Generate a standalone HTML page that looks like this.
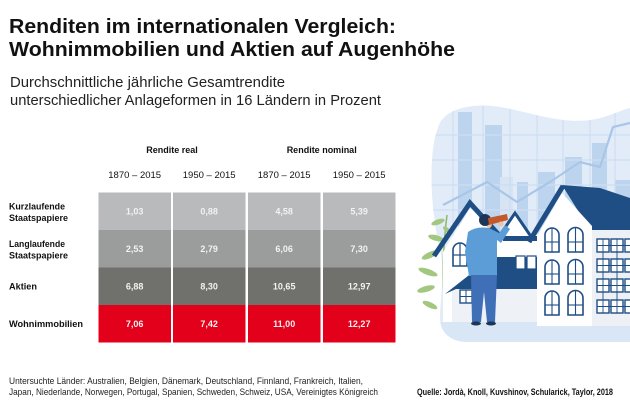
<!DOCTYPE html>
<html><head><meta charset="utf-8"><style>
html,body{margin:0;padding:0;background:#fff;}
svg{display:block;}
</style></head><body>
<svg width="630" height="412" viewBox="0 0 630 412" xmlns="http://www.w3.org/2000/svg" font-family="'Liberation Sans', sans-serif">
<rect width="630" height="412" fill="#fff"/>

<!-- Title -->
<text x="9" y="33" font-size="20.5" font-weight="bold" fill="#111" textLength="387" lengthAdjust="spacingAndGlyphs">Renditen im internationalen Vergleich:</text>
<text x="9" y="56" font-size="20.5" font-weight="bold" fill="#111" textLength="446" lengthAdjust="spacingAndGlyphs">Wohnimmobilien und Aktien auf Augenhöhe</text>
<text x="10" y="87" font-size="15" fill="#222" textLength="275" lengthAdjust="spacingAndGlyphs">Durchschnittliche jährliche Gesamtrendite</text>
<text x="10" y="105" font-size="15" fill="#222" textLength="371" lengthAdjust="spacingAndGlyphs">unterschiedlicher Anlageformen in 16 Ländern in Prozent</text>

<!-- Header -->
<g font-size="9" font-weight="bold" fill="#111" text-anchor="middle">
<text x="172" y="153">Rendite real</text>
<text x="321.7" y="153">Rendite nominal</text>
</g>
<g font-size="9.5" fill="#111" text-anchor="middle">
<text x="134.7" y="178">1870 – 2015</text>
<text x="209.2" y="178">1950 – 2015</text>
<text x="284.2" y="178">1870 – 2015</text>
<text x="359.2" y="178">1950 – 2015</text>
</g>

<!-- Cells -->
<g>
<rect x="98.5" y="192.5" width="72.5" height="37.5" fill="#b8babb"/>
<rect x="173" y="192.5" width="72.5" height="37.5" fill="#b8babb"/>
<rect x="248" y="192.5" width="72.5" height="37.5" fill="#b8babb"/>
<rect x="323" y="192.5" width="72.5" height="37.5" fill="#b8babb"/>
<rect x="98.5" y="230" width="72.5" height="37.5" fill="#9b9d9c"/>
<rect x="173" y="230" width="72.5" height="37.5" fill="#9b9d9c"/>
<rect x="248" y="230" width="72.5" height="37.5" fill="#9b9d9c"/>
<rect x="323" y="230" width="72.5" height="37.5" fill="#9b9d9c"/>
<rect x="98.5" y="267.5" width="72.5" height="37.5" fill="#70706c"/>
<rect x="173" y="267.5" width="72.5" height="37.5" fill="#70706c"/>
<rect x="248" y="267.5" width="72.5" height="37.5" fill="#70706c"/>
<rect x="323" y="267.5" width="72.5" height="37.5" fill="#70706c"/>
<rect x="98.5" y="305" width="72.5" height="37.5" fill="#e2001a"/>
<rect x="173" y="305" width="72.5" height="37.5" fill="#e2001a"/>
<rect x="248" y="305" width="72.5" height="37.5" fill="#e2001a"/>
<rect x="323" y="305" width="72.5" height="37.5" fill="#e2001a"/>
</g>
<g font-size="9" font-weight="bold" fill="#f2f2f2" text-anchor="middle">
<text x="134.7" y="214.5">1,03</text><text x="209.2" y="214.5">0,88</text><text x="284.2" y="214.5">4,58</text><text x="359.2" y="214.5">5,39</text>
<text x="134.7" y="252">2,53</text><text x="209.2" y="252">2,79</text><text x="284.2" y="252">6,06</text><text x="359.2" y="252">7,30</text>
<text x="134.7" y="289.5">6,88</text><text x="209.2" y="289.5">8,30</text><text x="284.2" y="289.5">10,65</text><text x="359.2" y="289.5">12,97</text>
<text x="134.7" y="327">7,06</text><text x="209.2" y="327">7,42</text><text x="284.2" y="327">11,00</text><text x="359.2" y="327">12,27</text>
</g>

<!-- Row labels -->
<g font-size="9" font-weight="bold" fill="#111">
<text x="9" y="209.5" textLength="56" lengthAdjust="spacingAndGlyphs">Kurzlaufende</text>
<text x="9" y="221" textLength="59" lengthAdjust="spacingAndGlyphs">Staatspapiere</text>
<text x="9" y="247" textLength="56" lengthAdjust="spacingAndGlyphs">Langlaufende</text>
<text x="9" y="258.5" textLength="59" lengthAdjust="spacingAndGlyphs">Staatspapiere</text>
<text x="9" y="289.5" textLength="28" lengthAdjust="spacingAndGlyphs">Aktien</text>
<text x="9" y="327" textLength="74" lengthAdjust="spacingAndGlyphs">Wohnimmobilien</text>
</g>

<!-- Footer -->
<g font-size="9" fill="#222">
<text x="9" y="384" textLength="354" lengthAdjust="spacingAndGlyphs">Untersuchte Länder: Australien, Belgien, Dänemark, Deutschland, Finnland, Frankreich, Italien,</text>
<text x="9" y="395" textLength="369" lengthAdjust="spacingAndGlyphs">Japan, Niederlande, Norwegen, Portugal, Spanien, Schweden, Schweiz, USA, Vereinigtes Königreich</text>
<text x="417" y="395" font-weight="bold" fill="#111" textLength="196" lengthAdjust="spacingAndGlyphs">Quelle: Jordà, Knoll, Kuvshinov, Schularick, Taylor, 2018</text>
</g>

<!-- Illustration -->
<defs>
<clipPath id="blob">
<path d="M438,128 C442,110 470,102 500,107 C530,112 560,124 590,120 C610,117 620,110 630,108 L630,342 L468,342 C450,342 440,332 440,318 C440,295 446,275 440,250 C434,225 430,190 432,160 C433,145 435,135 438,128 Z"/>
</clipPath>
</defs>
<path d="M438,128 C442,110 470,102 500,107 C530,112 560,124 590,120 C610,117 620,110 630,108 L630,342 L468,342 C450,342 440,332 440,318 C440,295 446,275 440,250 C434,225 430,190 432,160 C433,145 435,135 438,128 Z" fill="#e2ecf8"/>
<g clip-path="url(#blob)">
<g fill="#bcd4ee">
<rect x="458" y="112" width="14" height="200"/>
<rect x="485" y="125" width="17" height="190"/>
<rect x="517" y="182" width="11" height="130"/>
<rect x="538" y="172" width="17" height="140"/>
<rect x="565" y="157" width="17" height="150"/>
<rect x="592" y="143" width="15" height="160"/>
<rect x="615" y="180" width="15" height="130"/>
</g>
<rect x="500" y="177" width="13" height="130" fill="#d6e4f4"/>
<g stroke="#cddef1" stroke-width="1.2">
<line x1="453" y1="100" x2="453" y2="342"/><line x1="483" y1="100" x2="483" y2="342"/>
<line x1="510" y1="100" x2="510" y2="342"/><line x1="537" y1="100" x2="537" y2="342"/>
<line x1="563" y1="100" x2="563" y2="342"/><line x1="590" y1="100" x2="590" y2="342"/>
<line x1="615" y1="100" x2="615" y2="342"/>
<line x1="430" y1="135" x2="630" y2="135"/><line x1="430" y1="160" x2="630" y2="160"/>
<line x1="430" y1="185" x2="630" y2="185"/><line x1="430" y1="210" x2="630" y2="210"/>
</g>
<polyline points="443,205 487,182 517,202 550,182 580,162 600,167 613,127 630,123" fill="none" stroke="#a8c6e8" stroke-width="2.2"/>
<rect x="430" y="322" width="200" height="22" fill="#d9e6f5"/>
</g>

<!-- plant -->
<g fill="#a2c77f">
<path d="M446,318 Q440,270 447,215" stroke="#8db86a" stroke-width="1.5" fill="none"/>
<ellipse cx="438" cy="222" rx="7" ry="2.6" transform="rotate(-20 438 222)"/>
<ellipse cx="436" cy="238" rx="8" ry="2.8" transform="rotate(15 436 238)"/>
<ellipse cx="430" cy="255" rx="9" ry="3" transform="rotate(-25 430 255)"/>
<ellipse cx="428" cy="272" rx="10" ry="3" transform="rotate(20 428 272)"/>
<ellipse cx="426" cy="289" rx="9" ry="3" transform="rotate(-15 426 289)"/>
<ellipse cx="430" cy="305" rx="8" ry="2.8" transform="rotate(25 430 305)"/>
<ellipse cx="447" cy="230" rx="5" ry="2.2" transform="rotate(40 447 230)"/>
</g>

<!-- left house -->
<polygon points="443,252 470,208 503,240 503,322 443,322" fill="#fff"/>
<polyline points="434,256 470,203 508,245" stroke="#1f4e85" stroke-width="5" fill="none"/>
<path d="M453,266 L453,250 A7,7 0 0 1 467,250 L467,266 Z" fill="#fff" stroke="#1f4e85" stroke-width="1.6"/>
<line x1="460" y1="243" x2="460" y2="266" stroke="#1f4e85" stroke-width="1.2"/>
<line x1="453" y1="255" x2="467" y2="255" stroke="#1f4e85" stroke-width="1.2"/>

<!-- back middle house -->
<polygon points="500,235 515,214 530,235 537,235 537,260 500,260" fill="#fff"/>
<polyline points="498,238 515,213 532,238" stroke="#1f4e85" stroke-width="3" fill="none"/>
<rect x="503" y="236" width="34" height="5" fill="#1f4e85"/>

<!-- front lower house -->
<rect x="452" y="287" width="86" height="35" fill="#eef2f7"/>
<polygon points="445,294 492,257 538,257 538,289 456,289" fill="#1f4e85"/>
<rect x="460" y="290" width="12" height="13" fill="#fff" stroke="#1f4e85" stroke-width="1.4"/>
<line x1="466" y1="290" x2="466" y2="303" stroke="#1f4e85" stroke-width="1"/>
<line x1="460" y1="296.5" x2="472" y2="296.5" stroke="#1f4e85" stroke-width="1"/>
<g fill="#fff" stroke="#1f4e85" stroke-width="1.2">
<rect x="516" y="256" width="9" height="13"/><rect x="527" y="256" width="9" height="13"/>
</g>

<!-- main house -->
<rect x="592" y="226" width="38" height="100" fill="#edf1f6"/>
<polygon points="562,185 600,188 630,198 630,230 590,230" fill="#1f4e85"/>
<polygon points="537,236 562,193 592,226 592,326 537,326" fill="#fff"/>
<line x1="529" y1="242" x2="563" y2="186" stroke="#1f4e85" stroke-width="5"/>
<g fill="#fff" stroke="#1f4e85" stroke-width="1.6">
<path d="M545,252 L545,235 A7,7 0 0 1 559,235 L559,252 Z"/>
<path d="M568,252 L568,235 A7.5,7.5 0 0 1 583,235 L583,252 Z"/>
<path d="M545,284 L545,267 A7,7 0 0 1 559,267 L559,284 Z"/>
<path d="M568,284 L568,267 A7.5,7.5 0 0 1 583,267 L583,284 Z"/>
<path d="M545,315 L545,298 A7,7 0 0 1 559,298 L559,315 Z"/>
<path d="M568,315 L568,298 A7.5,7.5 0 0 1 583,298 L583,315 Z"/>
</g>
<g stroke="#1f4e85" stroke-width="1.1">
<line x1="552" y1="228" x2="552" y2="252"/><line x1="575.5" y1="228" x2="575.5" y2="252"/>
<line x1="552" y1="260" x2="552" y2="284"/><line x1="575.5" y1="260" x2="575.5" y2="284"/>
<line x1="552" y1="291" x2="552" y2="315"/><line x1="575.5" y1="291" x2="575.5" y2="315"/>
<line x1="545" y1="242" x2="559" y2="242"/><line x1="568" y1="242" x2="583" y2="242"/>
<line x1="545" y1="274" x2="559" y2="274"/><line x1="568" y1="274" x2="583" y2="274"/>
<line x1="545" y1="305" x2="559" y2="305"/><line x1="568" y1="305" x2="583" y2="305"/>
</g>
<g fill="#fff" stroke="#1f4e85" stroke-width="1.4">
<rect x="597" y="239" width="12" height="13"/><rect x="611" y="239" width="12" height="13"/><rect x="625" y="239" width="10" height="13"/>
<rect x="597" y="259" width="12" height="13"/><rect x="611" y="259" width="12" height="13"/><rect x="625" y="259" width="10" height="13"/>
<rect x="597" y="279" width="12" height="13"/><rect x="611" y="279" width="12" height="13"/><rect x="625" y="279" width="10" height="13"/>
<rect x="597" y="300" width="12" height="13"/><rect x="611" y="300" width="12" height="13"/><rect x="625" y="300" width="10" height="13"/>
</g>
<g stroke="#1f4e85" stroke-width="0.9">
<line x1="603" y1="239" x2="603" y2="313"/><line x1="617" y1="239" x2="617" y2="313"/>
<line x1="597" y1="245.5" x2="630" y2="245.5"/><line x1="597" y1="265.5" x2="630" y2="265.5"/>
<line x1="597" y1="285.5" x2="630" y2="285.5"/><line x1="597" y1="306.5" x2="630" y2="306.5"/>
</g>

<!-- man -->
<path d="M468,232 Q476,226 489,228 L499,233 L505,225 L510,229 L501,243 L497,240 L497,276 L469,276 L465,252 Z" fill="#5c9dd7"/>
<polygon points="471,275 497,275 495,322 487,322 484,292 481,322 472,322" fill="#3e6fb7"/>
<ellipse cx="476" cy="323.5" rx="5" ry="2" fill="#1d3557"/>
<ellipse cx="491" cy="323.5" rx="5" ry="2" fill="#1d3557"/>
<ellipse cx="489" cy="224" rx="3" ry="4" fill="#f0c19e"/>
<circle cx="485" cy="220" r="6" fill="#1d3557"/>
<polygon points="488,218 507,214 508,220 489,225" fill="#c4582b"/>
<circle cx="501" cy="224" r="2.5" fill="#f0c19e"/>
</svg>
</body></html>
